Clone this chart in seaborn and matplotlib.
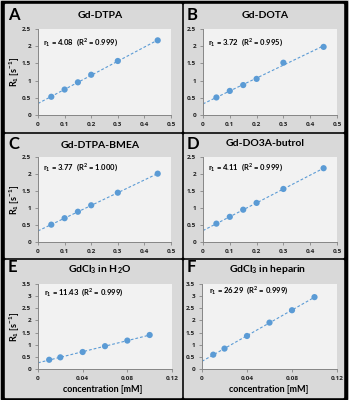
import numpy as np
import pandas as pd
import matplotlib
matplotlib.use('Agg')
import matplotlib.pyplot as plt
import seaborn as sns
from matplotlib.ticker import FuncFormatter, MultipleLocator
from matplotlib.patches import Rectangle

# ---- data ----
conc_dota = [0.05, 0.10, 0.15, 0.20, 0.30, 0.45]
conc_gdcl = [0.01, 0.02, 0.04, 0.06, 0.08, 0.10]

r1_dtpa = [0.53, 0.74, 0.95, 1.17, 1.57, 2.17]
r1_dota = [0.51, 0.70, 0.87, 1.05, 1.52, 1.98]
r1_bmea = [0.51, 0.70, 0.89, 1.08, 1.45, 2.01]
r1_butrol = [0.54, 0.74, 0.95, 1.15, 1.56, 2.17]
r1_h2o = [0.38, 0.48, 0.70, 0.94, 1.17, 1.40]
r1_heparin = [0.59, 0.84, 1.36, 1.91, 2.42, 2.96]

titles = ['Gd-DTPA', 'Gd-DOTA', 'Gd-DTPA-BMEA', 'Gd-DO3A-butrol',
          'GdCl$_3$ in H$_2$O', 'GdCl$_3$ in heparin']
letters = ['A', 'B', 'C', 'D', 'E', 'F']
relax_text = ['r$_1$ = 4.08  (R$^2$ = 0.999)', 'r$_1$ = 3.72  (R$^2$ = 0.995)',
              'r$_1$ = 3.77  (R$^2$ = 1.000)', 'r$_1$ = 4.11  (R$^2$ = 0.999)',
              'r$_1$ = 11.43  (R$^2$ = 0.999)', 'r$_1$ = 26.29  (R$^2$ = 0.999)']

panels = [(conc_dota, r1_dtpa), (conc_dota, r1_dota), (conc_dota, r1_bmea),
          (conc_dota, r1_butrol), (conc_gdcl, r1_h2o), (conc_gdcl, r1_heparin)]

sns.set_style('white')
plt.rcParams['font.family'] = ['Lato', 'DejaVu Sans']
plt.rcParams['mathtext.default'] = 'regular'

W, H = 349, 400
fig = plt.figure(figsize=(W / 100, H / 100), dpi=100, facecolor='#d9d9d9')

def fx(x):
    return x / W

def fy(y):
    return 1 - y / H

# black frame + grey panels (pixel boxes: left, top, right, bottom)
fig.patches.append(Rectangle((fx(1), fy(399)), fx(347) - fx(1), fy(1) - fy(399),
                             transform=fig.transFigure, color='black', zorder=-3))
panel_boxes = [(5, 4, 181, 131), (184, 4, 343, 131),
               (5, 134, 181, 257), (184, 134, 343, 257),
               (5, 260, 181, 397), (184, 260, 343, 397)]
for l, t, r, b in panel_boxes:
    fig.patches.append(Rectangle((fx(l), fy(b)), fx(r) - fx(l), fy(t) - fy(b),
                                 transform=fig.transFigure, color='#d9d9d9', zorder=-2))

axes_boxes = [(38, 29, 171, 115), (203, 29, 337, 115),
              (38, 157, 171, 242), (203, 157, 337, 242),
              (38, 284, 172, 369), (202, 284, 337, 369)]
title_pos = [(100, 16), (265, 16), (100, 145), (265, 144), (100, 270), (268, 270)]
letter_pos = [(8, 15), (187, 15), (8, 144), (187, 144), (8, 267), (187, 267)]
text_pos = [(43, 42), (208, 42), (43, 167), (208, 167), (44, 292), (209, 290)]

blue = '#5b9bd5'
fmt = FuncFormatter(lambda v, p: f'{v:g}')

for i, (xs, ys) in enumerate(panels):
    l, t, r, b = axes_boxes[i]
    ax = fig.add_axes([fx(l), fy(b), fx(r) - fx(l), fy(t) - fy(b)])
    ax.set_facecolor('#f2f2f2')
    df = pd.DataFrame({'conc': xs, 'R1': ys})

    slope, icpt = np.polyfit(df['conc'], df['R1'], 1)
    xfit = np.array([0, df['conc'].max()])
    ax.plot(xfit, slope * xfit + icpt, ls=(0, (2.5, 1.8)), color=blue, lw=0.8, zorder=2)
    sns.scatterplot(data=df, x='conc', y='R1', ax=ax, color=blue, s=20,
                    edgecolor='none', zorder=3)

    if i < 4:
        ax.set_xlim(0, 0.5)
        ax.set_ylim(0, 2.5)
        ax.xaxis.set_major_locator(MultipleLocator(0.1))
    else:
        ax.set_xlim(0, 0.12)
        ax.set_ylim(0, 3.5)
        ax.xaxis.set_major_locator(MultipleLocator(0.04))
    ax.yaxis.set_major_locator(MultipleLocator(0.5))
    ax.xaxis.set_major_formatter(fmt)
    ax.yaxis.set_major_formatter(fmt)
    ax.set_xlabel('')
    ax.set_ylabel('')

    for s in ['top', 'right']:
        ax.spines[s].set_visible(False)
    for s in ['left', 'bottom']:
        ax.spines[s].set_color('#868686')
        ax.spines[s].set_linewidth(0.7)
    ax.tick_params(axis='both', direction='out', length=2, width=0.6, color='#868686',
                   labelsize=4.6, pad=3, left=True, bottom=True)
    for lab in ax.get_xticklabels() + ax.get_yticklabels():
        lab.set_fontfamily('Open Sans')
        lab.set_fontweight('bold')
        lab.set_color('#222222')

    tx, ty = title_pos[i]
    fig.text(fx(tx), fy(ty), titles[i], ha='center', va='center',
             fontsize=7.5, fontweight='bold', color='black')
    lx, ly = letter_pos[i]
    fig.text(fx(lx), fy(ly), letters[i], ha='left', va='center',
             fontsize=12, fontweight='bold', color='black')
    rx, ry = text_pos[i]
    fig.text(fx(rx), fy(ry), relax_text[i], ha='left', va='center',
             fontsize=5.5, fontweight='bold', color='black')

# axis titles only on the left column / bottom row
for cy in [72, 200, 327]:
    fig.text(fx(15), fy(cy), 'R$_1$ [s$^{-1}$]', rotation=90, ha='center', va='center',
             fontsize=6.5, fontweight='bold', color='black')
for cx in [103, 269]:
    fig.text(fx(cx), fy(389), 'concentration [mM]', ha='center', va='center',
             fontsize=6.5, fontweight='bold', color='black')

fig.savefig('out.png', dpi=100, facecolor=fig.get_facecolor())
